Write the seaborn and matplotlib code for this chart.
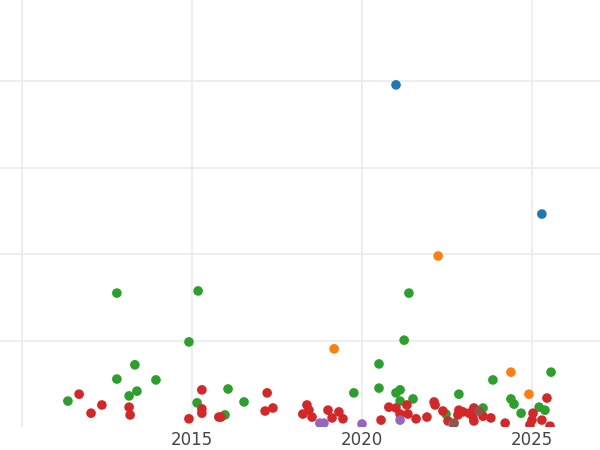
import numpy as np
import pandas as pd
import seaborn as sns
import matplotlib
matplotlib.use("Agg")
import matplotlib.pyplot as plt

sns.set_style("whitegrid", {"grid.color": "#ebebeb", "axes.edgecolor": "white"})
plt.rcParams['font.family'] = ['DejaVu Sans']

# values, one group per colour
blue_x = [2021.0, 2025.29]
blue_y = [79.2, 49.3]

orange_x = [2022.24, 2019.18, 2024.38, 2024.91]
orange_y = [39.6, 18.1, 12.7, 7.6]

green_x = [2012.79, 2015.18, 2014.91, 2013.32, 2012.79, 2013.94, 2013.38, 2013.15,
           2011.35, 2015.15, 2016.06, 2016.53, 2015.97, 2021.38, 2021.24, 2020.50,
           2020.50, 2019.76, 2021.0, 2021.12, 2021.12, 2021.50, 2022.85, 2023.85,
           2024.38, 2024.47, 2024.68, 2025.56, 2025.21, 2025.38, 2023.56, 2022.47]
green_y = [31.0, 31.5, 19.7, 14.4, 11.1, 10.9, 8.3, 7.2,
           6.0, 5.6, 8.8, 5.8, 2.8, 31.0, 20.1, 14.6,
           9.0, 7.9, 7.9, 8.6, 6.0, 6.5, 7.6, 10.9,
           6.5, 5.3, 3.2, 12.7, 4.6, 3.9, 4.4, 3.0]

red_x = [2011.68, 2012.03, 2012.35, 2013.15, 2013.18, 2014.91, 2015.29, 2015.29,
         2015.29, 2015.79, 2015.85, 2017.21, 2017.15, 2017.38, 2018.26, 2018.38,
         2018.44, 2018.53, 2019.0, 2019.12, 2019.32, 2019.44, 2020.56, 2020.79,
         2021.0, 2021.12, 2021.32, 2021.35, 2021.59, 2021.91, 2022.12, 2022.15,
         2022.38, 2022.53, 2022.85, 2022.82, 2022.97, 2023.15, 2023.29, 2023.26,
         2023.29, 2023.56, 2023.79, 2024.21, 2025.03, 2025.0, 2024.94, 2025.29,
         2025.44, 2025.53]
red_y = [7.6, 3.2, 5.1, 4.6, 2.8, 1.9, 8.6, 4.2,
         3.2, 2.3, 2.3, 7.9, 3.7, 4.4, 3.0, 5.1,
         3.9, 2.3, 3.9, 2.1, 3.5, 1.9, 1.6, 4.6,
         4.4, 3.0, 5.1, 3.0, 1.9, 2.3, 5.8, 5.1,
         3.7, 1.4, 3.9, 2.8, 3.5, 3.2, 4.4, 2.5,
         1.4, 2.5, 2.1, 0.9, 3.2, 1.6, 0.5, 1.6,
         6.7, 0.2]

purple_x = [2018.76, 2018.88, 2020.0, 2021.12, 2022.68]
purple_y = [0.9, 0.9, 0.7, 1.6, 0.7]

brown_x = [2022.71, 2023.44]
brown_y = [0.9, 3.7]

groups = ["A", "B", "C", "D", "E", "F"]
xs = [blue_x, orange_x, green_x, red_x, purple_x, brown_x]
ys = [blue_y, orange_y, green_y, red_y, purple_y, brown_y]

df = pd.concat([pd.DataFrame({"year": x, "value": y, "group": g})
                for g, x, y in zip(groups, xs, ys)], ignore_index=True)

fig = plt.figure(figsize=(6, 4.5), dpi=100)
ax = fig.add_axes([0, 0.0511, 1, 0.9489])
sns.scatterplot(data=df, x="year", y="value", hue="group", hue_order=groups,
                palette=sns.color_palette("tab10", 6), s=48, linewidth=0,
                legend=False, ax=ax)

ax.set_xlim(2009.353, 2027.0)
ax.set_ylim(0, 98.85)
ax.set_xticks([2010, 2015, 2020, 2025])
ax.set_xticklabels(["", "2015", "2020", "2025"])
ax.set_yticks([20, 40, 60, 80])
ax.set_yticklabels([])
ax.tick_params(axis="x", labelsize=12, labelcolor="#444444", length=0, pad=3)
ax.tick_params(axis="y", length=0)
ax.grid(True, color="#ebebeb", linewidth=1.2)
ax.set_xlabel("")
ax.set_ylabel("")
for s in ax.spines.values():
    s.set_visible(False)

fig.savefig("out.png", dpi=100)
